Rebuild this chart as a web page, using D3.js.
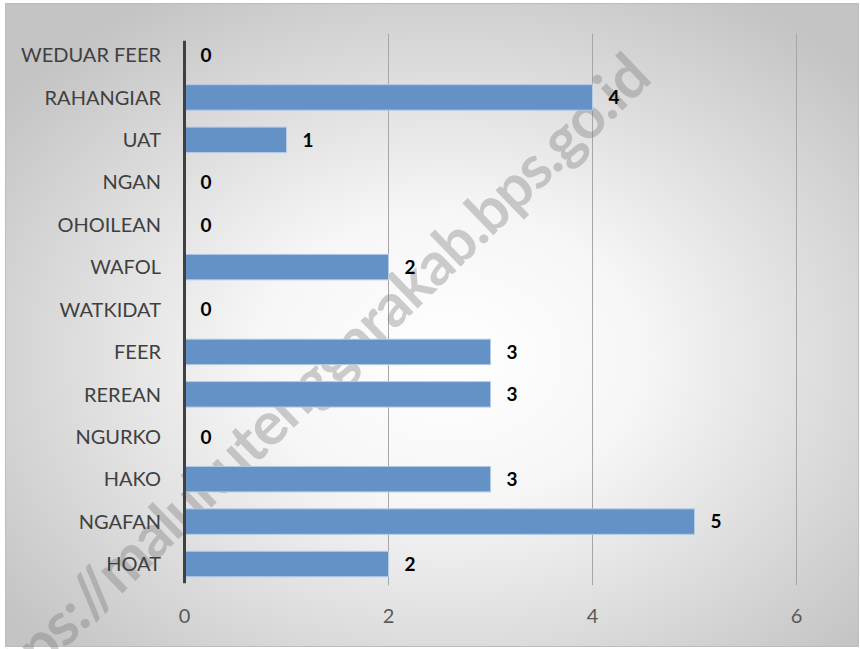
<!DOCTYPE html>
<html><head><meta charset="utf-8">
<script src="https://cdn.jsdelivr.net/npm/d3@7"></script>
<style>body{margin:0;background:#fff}svg{display:block}</style>
</head><body>
<script>
const categories = ["WEDUAR FEER","RAHANGIAR","UAT","NGAN","OHOILEAN","WAFOL","WATKIDAT","FEER","REREAN","NGURKO","HAKO","NGAFAN","HOAT"];
const values = [0,4,1,0,0,2,0,3,3,0,3,5,2];
const xTicks = [0,2,4,6];
const watermark = "https://malukutenggarakab.bps.go.id";

const W = 860, H = 649;
const m = {left:184.5, right:796.5, top:33.8, bottom:585.2};
const svg = d3.select("body").append("svg").attr("width",W).attr("height",H);
const defs = svg.append("defs");
const rg = defs.append("radialGradient").attr("id","bg").attr("cx","52%").attr("cy","55%").attr("r","65%");
rg.append("stop").attr("offset","0%").attr("stop-color","#ffffff");
rg.append("stop").attr("offset","35%").attr("stop-color","#f6f6f6");
rg.append("stop").attr("offset","100%").attr("stop-color","#c4c4c4");
svg.append("rect").attr("x",5.5).attr("y",3.5).attr("width",W-7).attr("height",H-6)
  .attr("fill","url(#bg)").attr("stroke","#bdbdbd").attr("stroke-width",1);

const x = d3.scaleLinear().domain([0,6]).range([m.left,m.right]);
const y = d3.scaleBand().domain(categories).range([m.top,m.bottom]).paddingInner(0.4).paddingOuter(0.2);

// gridlines
svg.append("g").selectAll("line").data(xTicks.filter(d=>d>0)).join("line")
  .attr("x1",d=>x(d)).attr("x2",d=>x(d)).attr("y1",m.top).attr("y2",m.bottom)
  .attr("stroke","#a6a6a6").attr("stroke-width",1);

// watermark
svg.append("text").attr("transform","translate(654,80) rotate(-44)")
  .attr("text-anchor","end").attr("font-family","Lato, 'Open Sans', sans-serif").attr("font-weight","bold")
  .attr("font-size",60).attr("textLength",925).attr("lengthAdjust","spacing")
  .attr("fill","rgba(120,120,120,0.36)").text(watermark);

// bars
svg.append("g").selectAll("rect").data(values.map((v,i)=>({v,c:categories[i]})).filter(d=>d.v>0)).join("rect")
  .attr("x",x(0)).attr("y",d=>y(d.c)).attr("width",d=>x(d.v)-x(0)).attr("height",y.bandwidth())
  .attr("fill","#6491c6").attr("stroke","#b4cbe6").attr("stroke-width",1);

// axis line
svg.append("line").attr("x1",x(0)).attr("x2",x(0)).attr("y1",m.top+7).attr("y2",m.bottom-2)
  .attr("stroke","#404040").attr("stroke-width",3);

const font = "Lato, 'Open Sans', sans-serif";
// category labels
svg.append("g").selectAll("text").data(categories).join("text")
  .attr("x",161).attr("y",d=>y(d)+y.bandwidth()/2).attr("dy","0.36em")
  .attr("text-anchor","end").attr("font-family",font).attr("font-size",20)
  .attr("fill","#404040").text(d=>d);

// x tick labels
svg.append("g").selectAll("text").data(xTicks).join("text")
  .attr("x",d=>x(d)).attr("y",616).attr("dy","0.36em")
  .attr("text-anchor","middle").attr("font-family",font).attr("font-size",20)
  .attr("fill","#595959").text(d=>d);

// value labels
svg.append("g").selectAll("text").data(values.map((v,i)=>({v,c:categories[i]}))).join("text")
  .attr("x",d=>x(d.v)+16).attr("y",d=>y(d.c)+y.bandwidth()/2).attr("dy","0.36em")
  .attr("font-family",font).attr("font-size",19).attr("font-weight","bold")
  .attr("fill","#000").text(d=>d.v);
</script>
</body></html>
